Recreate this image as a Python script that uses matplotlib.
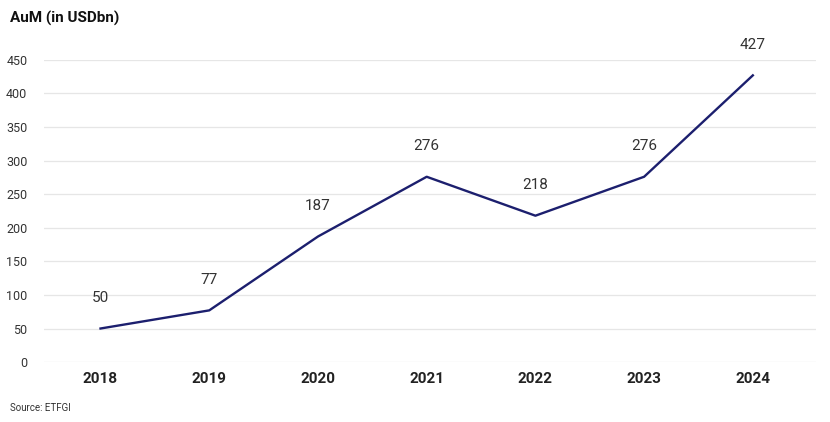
import matplotlib.pyplot as plt

plt.rcParams['font.family'] = ['Roboto', 'DejaVu Sans']

# Data
years = ['2018', '2019', '2020', '2021', '2022', '2023', '2024']
aum = [50, 77, 187, 276, 218, 276, 427]

fig = plt.figure(figsize=(8.3, 4.22), dpi=100)
ax = fig.add_axes([0.053, 0.142, 0.93, 0.716])

x = list(range(len(years)))
ax.plot(x, aum, color='#1c1f6e', lw=1.7)

# Value labels above each point
for xi, v in zip(x, aum):
    ax.annotate(str(v), (xi, v), xytext=(0, 17), textcoords='offset points',
                ha='center', va='bottom', fontsize=11, color='#333333',
                annotation_clip=False)

ax.set_xlim(-0.52, 6.58)
ax.set_ylim(0, 450)
ax.set_yticks(range(0, 451, 50))
ax.set_xticks(x)
ax.set_xticklabels(years, fontsize=11, fontweight='bold', color='#222222')
ax.tick_params(axis='y', labelsize=9, colors='#333333', length=0, pad=12)
ax.tick_params(axis='x', length=0, pad=7)

ax.grid(axis='y', color='#e6e6e6', lw=0.9)
ax.set_axisbelow(True)
for s in ax.spines.values():
    s.set_visible(False)

fig.text(0.012, 0.975, 'AuM (in USDbn)', fontsize=11, fontweight='bold',
         color='#111111', va='top', ha='left')
fig.text(0.012, 0.022, 'Source: ETFGI', fontsize=7, color='#333333',
         va='bottom', ha='left')

fig.savefig('out.png', dpi=100)
